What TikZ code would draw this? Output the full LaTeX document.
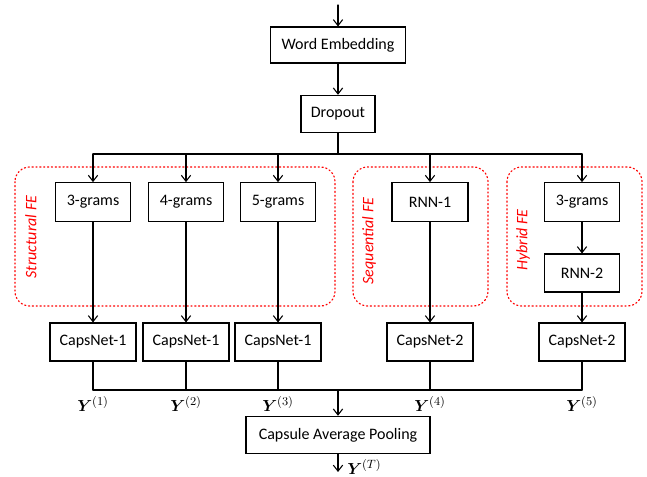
\documentclass[tikz,border=0pt]{standalone}
\usepackage{amsmath,bm}
\usepackage{fontspec}
\setmainfont{Carlito}
\usetikzlibrary{arrows.meta}
\definecolor{fe}{HTML}{FF0000}
\definecolor{ink}{HTML}{000000}
\tikzset{
  block/.style={draw=ink, line width=0.8pt, inner sep=0pt,
    font=\fontsize{12}{14}\selectfont, text=ink},
  wire/.style={draw=ink, line width=0.8pt},
  flow/.style={wire, -{Straight Barb[length=4.5pt,width=7pt,line width=0.8pt]}},
  feframe/.style={draw=fe, dotted, line width=0.9pt, rounded corners=11pt},
  fetag/.style={font=\itshape\fontsize{12}{14}\selectfont, text=fe, rotate=90, inner sep=0pt},
  ylabel/.style={font=\fontsize{13}{15}\selectfont, inner sep=0pt},
}
\begin{document}
\begin{tikzpicture}[x=0.75pt, y=-0.75pt, line cap=round, line join=miter]
\path[use as bounding box] (0,0) rectangle (647,477);

% feature extractor groups
\draw[feframe] (15,167) rectangle (335,306);
\draw[feframe] (353,167) rectangle (488,306);
\draw[feframe] (507,167) rectangle (642,306);
\node[fetag] (tagS) at (31,237) {Structural FE};
\node[fetag] (tagQ) at (369,241) {Sequential FE};
\node[fetag] (tagH) at (523,240) {Hybrid FE};

% blocks
\node[block, minimum width=101pt, minimum height=27pt] (emb) at (338,45) {Word Embedding};
\node[block, minimum width=55.5pt, minimum height=28pt] (drop) at (338,114) {Dropout};
\node[block, minimum width=56pt, minimum height=29pt] (sg3) at (93,202) {3-grams};
\node[block, minimum width=56pt, minimum height=29pt] (sg4) at (186,202) {4-grams};
\node[block, minimum width=56pt, minimum height=29pt] (sg5) at (278,202) {5-grams};
\node[block, minimum width=57pt, minimum height=29pt] (rnn1) at (430,202) {RNN-1};
\node[block, minimum width=56pt, minimum height=29pt] (hg3) at (582,202) {3-grams};
\node[block, minimum width=56pt, minimum height=28.5pt] (rnn2) at (582,273) {RNN-2};
\node[block, minimum width=64.5pt, minimum height=28.5pt] (cap1) at (93,342) {CapsNet-1};
\node[block, minimum width=64.5pt, minimum height=28.5pt] (cap2) at (186,342) {CapsNet-1};
\node[block, minimum width=64.5pt, minimum height=28.5pt] (cap3) at (278,342) {CapsNet-1};
\node[block, minimum width=64.5pt, minimum height=28.5pt] (cap4) at (430,342) {CapsNet-2};
\node[block, minimum width=64.5pt, minimum height=28.5pt] (cap5) at (582,342) {CapsNet-2};
\node[block, minimum width=138pt, minimum height=28pt] (pool) at (338,435) {Capsule Average Pooling};

\coordinate (in) at (338,5);
\coordinate (bus) at (338,154);
\coordinate (merge) at (338,390);
\coordinate (out) at (338,472);

% top chain
\draw[flow] (in) -- (emb.north);
\draw[flow] (emb.south) -- (drop.north);
\draw[wire] (drop.south) -- (bus);
\draw[wire] (bus -| sg3) -- (bus -| hg3);
\foreach \b in {sg3,sg4,sg5,rnn1,hg3}{
  \draw[flow] (bus -| \b) -- (\b.north);
}
\draw[flow] (hg3.south) -- (rnn2.north);

% into the capsule networks
\draw[flow] (sg3.south) -- (cap1.north);
\draw[flow] (sg4.south) -- (cap2.north);
\draw[flow] (sg5.south) -- (cap3.north);
\draw[flow] (rnn1.south) -- (cap4.north);
\draw[flow] (rnn2.south) -- (cap5.north);

% merge and pooling
\draw[wire] (merge -| cap1) -- (merge -| cap5);
\foreach \b in {cap1,cap2,cap3,cap4,cap5}{
  \draw[wire] (\b.south) -- (merge -| \b);
}
\draw[flow] (merge) -- (pool.north);
\draw[flow] (pool.south) -- (out);

\foreach \b [count=\k] in {cap1,cap2,cap3,cap4,cap5}{
  \node[ylabel, anchor=north] (y\k) at ([yshift=-5pt]merge -| \b) {$\bm{Y}^{(\k)}$};
}
\node[ylabel, anchor=west] (yT) at (347,467) {$\bm{Y}^{(T)}$};
\end{tikzpicture}
\end{document}
